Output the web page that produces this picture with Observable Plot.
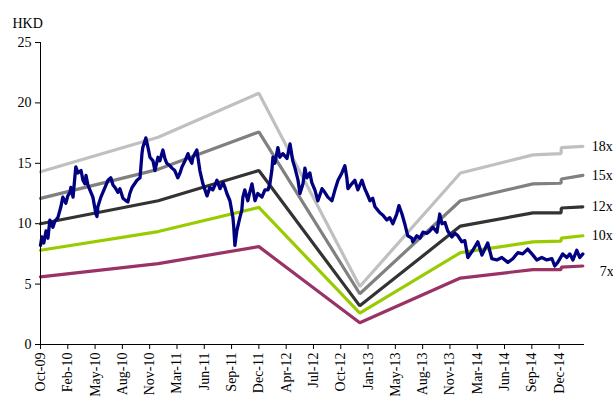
<!DOCTYPE html>
<html><head><meta charset="utf-8">
<script src="https://cdn.jsdelivr.net/npm/d3@7"></script>
<script src="https://cdn.jsdelivr.net/npm/@observablehq/plot@0.6"></script>
<style>
body{margin:0;background:#fff}
#chart svg{font-family:"Liberation Serif","Times New Roman",serif;}
</style>
</head><body><div id="chart"></div>
<script>
const priceDates = ["2009-10-30","2009-11-04","2009-11-11","2009-11-19","2009-11-26","2009-12-03","2009-12-14","2009-12-21","2010-01-01","2010-01-12","2010-01-19","2010-01-30","2010-02-06","2010-02-14","2010-02-17","2010-02-25","2010-03-07","2010-03-15","2010-03-26","2010-04-02","2010-04-09","2010-04-13","2010-04-20","2010-04-27","2010-05-08","2010-05-19","2010-05-23","2010-05-26","2010-06-06","2010-06-21","2010-07-02","2010-07-12","2010-07-20","2010-07-27","2010-08-07","2010-08-14","2010-08-25","2010-09-05","2010-09-12","2010-09-19","2010-09-27","2010-10-15","2010-10-26","2010-11-02","2010-11-05","2010-11-16","2010-11-24","2010-12-01","2010-12-12","2010-12-19","2010-12-30","2011-01-06","2011-01-13","2011-01-17","2011-01-24","2011-01-31","2011-02-11","2011-02-19","2011-03-01","2011-03-12","2011-03-20","2011-03-27","2011-04-07","2011-04-18","2011-04-25","2011-05-02","2011-05-06","2011-05-13","2011-05-20","2011-05-31","2011-06-11","2011-06-26","2011-07-06","2011-07-17","2011-07-25","2011-08-01","2011-08-12","2011-08-23","2011-08-30","2011-09-06","2011-09-17","2011-09-28","2011-10-01","2011-10-05","2011-10-12","2011-10-23","2011-10-30","2011-11-03","2011-11-10","2011-11-21","2011-11-28","2011-12-06","2011-12-17","2011-12-27","2012-01-11","2012-01-22","2012-02-02","2012-02-09","2012-02-16","2012-02-20","2012-02-27","2012-03-09","2012-03-16","2012-03-27","2012-04-11","2012-04-22","2012-05-02","2012-05-10","2012-05-21","2012-05-28","2012-06-08","2012-06-15","2012-06-22","2012-07-03","2012-07-10","2012-07-21","2012-08-01","2012-08-16","2012-08-26","2012-09-06","2012-09-21","2012-10-02","2012-10-13","2012-10-27","2012-11-07","2012-11-14","2012-11-18","2012-12-02","2012-12-13","2012-12-24","2013-01-08","2013-01-18","2013-01-26","2013-02-06","2013-02-16","2013-02-24","2013-03-07","2013-03-14","2013-03-25","2013-04-08","2013-04-19","2013-04-30","2013-05-14","2013-05-22","2013-06-02","2013-06-12","2013-06-23","2013-07-08","2013-07-11","2013-07-26","2013-08-06","2013-08-17","2013-08-31","2013-09-11","2013-09-22","2013-10-07","2013-10-17","2013-10-25","2013-11-05","2013-11-15","2013-11-30","2013-12-11","2013-12-22","2014-01-05","2014-01-16","2014-01-27","2014-02-14","2014-03-04","2014-03-19","2014-04-09","2014-04-24","2014-05-12","2014-05-30","2014-06-21","2014-07-09","2014-07-27","2014-08-14","2014-09-01","2014-09-20","2014-10-04","2014-10-22","2014-11-09","2014-11-28","2014-12-08","2014-12-19","2015-01-06","2015-01-21","2015-02-01","2015-02-12","2015-02-26","2015-03-09","2015-03-20"];
const priceValues = [8.2,8.9,8.4,9.4,8.8,10.3,9.7,10.2,10.5,11.4,12.2,11.7,12.3,12.6,13.0,12.2,14.7,14.2,14.4,13.6,13.3,14.0,13.2,12.8,12.2,10.8,10.6,11.4,12.2,13.0,13.6,13.8,13.2,13.0,12.6,12.9,12.1,11.9,11.8,12.5,13.0,13.6,13.8,15.8,16.3,17.1,16.3,15.5,15.2,14.4,15.5,15.2,15.8,16.1,15.4,15.0,14.8,14.6,14.4,13.8,14.2,14.7,15.2,15.8,15.3,15.0,15.5,15.8,16.1,14.4,13.3,12.3,13.0,12.8,13.2,13.6,12.9,13.4,13.0,12.5,11.9,10.5,9.7,8.2,9.4,10.5,11.1,12.2,12.8,11.9,12.6,13.3,11.9,12.5,12.2,12.8,12.8,13.3,14.4,15.5,15.0,16.3,15.5,15.8,15.4,16.6,15.2,14.6,13.6,12.5,13.3,14.6,13.8,14.2,13.4,12.8,11.9,12.9,12.6,12.2,11.9,12.8,13.6,14.2,14.8,13.8,12.9,13.3,13.6,12.8,13.6,12.9,12.5,11.9,12.1,11.4,11.1,10.9,10.7,10.3,10.5,10.0,10.8,11.5,10.8,10.0,9.0,8.8,8.5,9.0,8.8,9.3,9.2,9.4,9.7,9.3,10.8,10.0,10.1,9.4,8.9,9.2,9.0,8.5,8.6,7.2,7.8,8.5,7.4,8.4,7.1,7.0,7.2,6.8,7.1,7.6,7.5,7.9,7.4,7.0,7.2,7.0,7.1,6.5,6.8,7.5,7.2,7.5,7.0,7.8,7.2,7.5];

const bandDates = ["2009-10-30","2010-12-31","2011-12-31","2012-12-31","2013-12-31","2014-09-20","2014-12-31","2015-01-01","2015-03-20"];
const band18x = [14.3,17.15,20.8,4.8,14.2,15.7,15.8,16.3,16.4];
const band15x = [12.1,14.5,17.6,4.2,11.9,13.3,13.35,13.7,14.0];
const band12x = [10.0,11.9,14.4,3.2,9.8,10.9,10.9,11.3,11.4];
const band10x = [7.8,9.35,11.35,2.6,7.6,8.5,8.55,8.8,9.0];
const band7x  = [5.6,6.7,8.1,1.8,5.5,6.2,6.2,6.4,6.5];
const bandNames = ["18x","15x","12x","10x","7x"];

const tickDates = ["2009-10-30","2010-02-06","2010-05-16","2010-08-23","2010-11-30","2011-03-09","2011-06-16","2011-09-23","2011-12-31","2012-04-08","2012-07-16","2012-10-23","2013-01-30","2013-05-09","2013-08-16","2013-11-23","2014-03-02","2014-06-09","2014-09-16","2014-12-24"];
const yTicks = [0,5,10,15,20,25];
const xDomain = ["2009-10-30","2015-03-26"];
const yUnit = "HKD";

// styles
const bandColors = ["#C0C0C0","#808080","#333333","#99CC00","#993366"];
const priceColor = "#000080";

const parse = d3.utcParse("%Y-%m-%d");
const price = priceDates.map((d,i) => ({date: parse(d), value: priceValues[i]}));
const bandSeries = [band18x, band15x, band12x, band10x, band7x];
const bands = [];
bandSeries.forEach((arr, k) => arr.forEach((v, i) => bands.push({date: parse(bandDates[i]), value: v, band: bandNames[k]})));
const lastRows = bandNames.map((n, k) => ({date: parse(bandDates[bandDates.length-1]), value: bandSeries[k][bandSeries[k].length-1], band: n}));

const chart = Plot.plot({
  width: 613,
  height: 402,
  marginLeft: 40,
  marginRight: 29,
  marginTop: 42,
  marginBottom: 58,
  style: {fontSize: "14px", fontFamily: "'Liberation Serif','Times New Roman',serif", color: "#000", background: "#fff"},
  x: {type: "utc", domain: xDomain.map(parse), label: null},
  y: {domain: [0, 25], label: null},
  color: {domain: bandNames, range: bandColors},
  marks: [
    Plot.axisX({ticks: tickDates.map(parse), tickFormat: d3.utcFormat("%b-%y"), tickRotate: -90, tickSize: 5, tickPadding: 3, label: null, fontSize: 14}),
    Plot.axisY({ticks: yTicks, tickSize: 5, tickPadding: 4, label: null, fontSize: 14}),
    Plot.line(bands, {x: "date", y: "value", z: "band", stroke: "band", strokeWidth: 3.2, strokeLinejoin: "miter"}),
    Plot.line(price, {x: "date", y: "value", stroke: priceColor, strokeWidth: 3.3, strokeLinejoin: "round"}),
    Plot.ruleX([parse(xDomain[0])], {stroke: "#000", strokeWidth: 1}),
    Plot.ruleY([0], {stroke: "#000", strokeWidth: 1}),
    Plot.text(lastRows.filter(d => d.band !== "7x"), {x: "date", y: "value", text: "band", textAnchor: "start", dx: 9, fontSize: 14, fill: "#000"}),
    Plot.text(lastRows.filter(d => d.band === "7x"), {x: "date", y: "value", text: "band", textAnchor: "start", dx: 17, dy: 6, fontSize: 14, fill: "#000"}),
    Plot.text([yUnit], {frameAnchor: "top-left", text: d => d, textAnchor: "start", dx: -28, dy: -24, fontSize: 14, fill: "#000"})
  ]
});
document.getElementById("chart").appendChild(chart);
</script>
</body></html>
